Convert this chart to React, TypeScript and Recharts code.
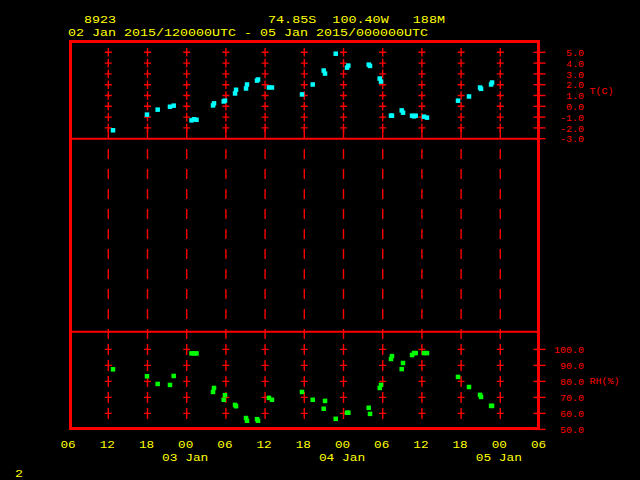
import React from "react";
import { ScatterChart, Scatter, XAxis, YAxis, ReferenceLine } from "recharts";

// ---------- data ----------
// observation times, hours after 02 Jan 2015 06 UTC
const obsHours = [
  6.72, 11.92, 13.56, 15.44, 16.01, 18.74, 19.12, 19.5, 22.03, 22.18, 23.66, 23.86,
  25.4, 25.55, 27.08, 27.23, 28.76, 28.92, 30.59, 31.05, 35.65, 37.29, 38.97, 39.17,
  40.81, 42.54, 42.74, 45.86, 46.06, 47.54, 47.74, 49.27, 49.42, 50.91, 51.11, 52.49,
  52.8, 53.05, 54.32, 54.78, 59.53, 61.21, 62.9, 63.05, 64.59, 64.74,
];
const tempC = [
  -2.22, -0.77, -0.31, -0.04, 0.06, -1.3, -1.2, -1.25, 0.08, 0.27, 0.45, 0.52,
  1.19, 1.53, 1.65, 2.02, 2.38, 2.48, 1.74, 1.74, 1.1, 2.02, 3.31, 3.03,
  4.87, 3.58, 3.77, 3.86, 3.74, 2.57, 2.29, -0.87, -0.87, -0.38, -0.59, -0.87,
  -0.93, -0.87, -0.96, -1.05, 0.52, 0.91, 1.74, 1.62, 2.02, 2.2,
];
const rhPct = [
  87.55, 83.2, 78.4, 77.8, 83.4, 97.5, 97.5, 97.5, 73.4, 75.9, 68.5, 71.4,
  65.3, 64.5, 57.1, 55.4, 56.4, 55.4, 69.7, 68.5, 73.4, 68.5, 62.9, 67.8,
  56.6, 60.4, 60.4, 63.5, 59.7, 75.9, 77.8, 94.0, 95.8, 87.7, 91.5, 96.5,
  97.7, 97.7, 97.7, 97.7, 82.8, 76.5, 71.6, 70.3, 64.7, 64.7,
];

const hourTicks = [0, 6, 12, 18, 24, 30, 36, 42, 48, 54, 60, 66, 72];
const hourTickLabels = ["06", "12", "18", "00", "06", "12", "18", "00", "06", "12", "18", "00", "06"];
const dayLabels = ["", "", "", "03 Jan", "", "", "", "04 Jan", "", "", "", "05 Jan", ""];
const gridHours = [6, 12, 18, 24, 30, 36, 42, 48, 54, 60, 66];
const tTicks = [-3, -2, -1, 0, 1, 2, 3, 4, 5];
const rhTicks = [50, 60, 70, 80, 90, 100];

const stationId = "8923";
const stationLoc = "74.85S  100.40W   188M";
const periodText = "02 Jan 2015/120000UTC - 05 Jan 2015/000000UTC";
const pageNumber = "2";
const tLabel = "T(C)";
const rhLabel = "RH(%)";

// ---------- style ----------
const RED = "#ff0000";
const CYAN = "#00ffff";
const GREEN = "#00ff00";
const YELLOW = "#ffff00";
const MONO = "'Liberation Mono', 'DejaVu Sans Mono', monospace";

const W = 640;
const H = 480;
const LEFT = 69.1;
const AXIS_W = 100;
const RIGHT_M = W - 539.5 - AXIS_W;

const tempData = obsHours.map((h, i) => ({ h, v: tempC[i] }));
const rhData = obsHours.map((h, i) => ({ h, v: rhPct[i] }));
const gridT = gridHours.flatMap((h) => tTicks.filter((t) => t > tTicks[0]).map((t) => ({ h, v: t })));
const gridRH = gridHours.flatMap((h) => rhTicks.filter((r) => r > rhTicks[0]).map((r) => ({ h, v: r })));
const midAnchors = gridHours.map((h) => ({ h, v: 0.5 }));

const square = (color: string, size: number) => (props: any) => {
  const { cx, cy } = props;
  if (cx == null || cy == null) return <g />;
  return <rect x={cx - size / 2} y={cy - size / 2} width={size} height={size} fill={color} />;
};

const plus = (vArm: number) => (props: any) => {
  const { cx, cy } = props;
  if (cx == null || cy == null) return <g />;
  return (
    <g stroke={RED} strokeWidth={1.4}>
      <line x1={cx - 3.5} x2={cx + 3.5} y1={cy} y2={cy} />
      <line x1={cx} x2={cx} y1={cy - vArm} y2={cy + vArm} />
    </g>
  );
};

const nothing = () => <g />;

const RightTick = (props: any) => {
  const { x, y, payload } = props;
  const s = Number(payload.value).toFixed(1);
  return (
    <g>
      <line x1={x - 6} x2={x + 6} y1={y} y2={y} stroke={RED} strokeWidth={1.4} />
      <text
        x={x + 44.5}
        y={y + 3.6}
        textAnchor="end"
        fill={RED}
        fontFamily={MONO}
        fontSize={9.5}
        textLength={s.length * 6}
        lengthAdjust="spacingAndGlyphs"
      >
        {s}
      </text>
    </g>
  );
};

const axisTitle = (text: string) => (props: any) => {
  const vb = props.viewBox || {};
  const x = (vb.x ?? 539.5) + 50;
  const y = (vb.y ?? 0) + (vb.height ?? 0) / 2 + 3.6;
  return (
    <text
      x={x}
      y={y}
      fill={RED}
      fontFamily={MONO}
      fontSize={9.5}
      textLength={text.length * 6}
      lengthAdjust="spacingAndGlyphs"
    >
      {text}
    </text>
  );
};

const TimeTick = (props: any) => {
  const { x, y, payload } = props;
  const i = hourTicks.indexOf(payload.value);
  const hl = hourTickLabels[i] || "";
  const dl = dayLabels[i] || "";
  return (
    <g fill={YELLOW} fontFamily={MONO} fontSize={11.5}>
      <text x={x - 1} y={y + 19} textAnchor="middle" textLength={hl.length * 7.6} lengthAdjust="spacingAndGlyphs">
        {hl}
      </text>
      {dl ? (
        <text x={x - 1.5} y={y + 32} textAnchor="middle" textLength={dl.length * 7.7} lengthAdjust="spacingAndGlyphs">
          {dl}
        </text>
      ) : null}
    </g>
  );
};

const layer: React.CSSProperties = { position: "absolute", left: 0, top: 0 };

export default function App() {
  return (
    <div style={{ position: "absolute", left: 0, top: 0, width: W, height: H, background: "#000", overflow: "hidden" }}>
      {/* middle panel: dashed time lines */}
      <div style={layer}>
        <ScatterChart width={W} height={H} margin={{ top: 129, bottom: H - 339, left: LEFT, right: W - 539.5 }}>
          <XAxis type="number" dataKey="h" domain={[0, 72]} hide allowDataOverflow />
          <YAxis type="number" dataKey="v" domain={[0, 1]} hide allowDataOverflow />
          <Scatter data={midAnchors} shape={nothing} isAnimationActive={false} />
          {gridHours.map((h) => (
            <ReferenceLine key={h} x={h} stroke={RED} strokeWidth={1.4} strokeDasharray="10 10" ifOverflow="extendDomain" />
          ))}
        </ScatterChart>
      </div>

      {/* top panel: temperature */}
      <div style={layer}>
        <ScatterChart width={W} height={H} margin={{ top: 41.5, bottom: H - 138.7, left: LEFT, right: RIGHT_M }}>
          <XAxis type="number" dataKey="h" domain={[0, 72]} hide allowDataOverflow />
          <YAxis
            type="number"
            dataKey="v"
            orientation="right"
            width={AXIS_W}
            domain={[-3, 6]}
            ticks={tTicks}
            interval={0}
            allowDataOverflow
            axisLine={false}
            tickLine={false}
            tickSize={0}
            tickMargin={0}
            tick={<RightTick />}
            label={axisTitle(tLabel)}
          />
          <ReferenceLine y={-3} stroke={RED} strokeWidth={2} />
          <Scatter data={gridT} shape={plus(4.3)} isAnimationActive={false} />
          <Scatter data={tempData} shape={square(CYAN, 4.5)} isAnimationActive={false} />
        </ScatterChart>
      </div>

      {/* bottom panel: relative humidity */}
      <div style={layer}>
        <ScatterChart width={W} height={H} margin={{ top: 331.8, bottom: H - 429.4 - 30, left: LEFT, right: RIGHT_M }}>
          <XAxis
            type="number"
            dataKey="h"
            domain={[0, 72]}
            ticks={hourTicks}
            interval={0}
            height={30}
            allowDataOverflow
            axisLine={false}
            tickLine={false}
            tickSize={0}
            tickMargin={0}
            tick={<TimeTick />}
          />
          <YAxis
            type="number"
            dataKey="v"
            orientation="right"
            width={AXIS_W}
            domain={[50, 111]}
            ticks={rhTicks}
            interval={0}
            allowDataOverflow
            axisLine={false}
            tickLine={false}
            tickSize={0}
            tickMargin={0}
            tick={<RightTick />}
            label={axisTitle(rhLabel)}
          />
          <ReferenceLine y={111} stroke={RED} strokeWidth={2} />
          <Scatter data={gridRH} shape={plus(5.5)} isAnimationActive={false} />
          <Scatter data={rhData} shape={square(GREEN, 4.5)} isAnimationActive={false} />
        </ScatterChart>
      </div>

      {/* frame */}
      <div
        style={{
          position: "absolute",
          left: 69,
          top: 40,
          width: 471,
          height: 390,
          border: `3px solid ${RED}`,
          boxSizing: "border-box",
          pointerEvents: "none",
        }}
      />

      {/* titles */}
      <svg width={W} height={H} style={{ ...layer, pointerEvents: "none" }}>
        <g fill={YELLOW} fontFamily={MONO} fontSize={11}>
          <text x={84} y={23.3} textLength={32} lengthAdjust="spacingAndGlyphs">
            {stationId}
          </text>
          <text x={268} y={23.3} textLength={177} lengthAdjust="spacingAndGlyphs" style={{ whiteSpace: "pre" }}>
            {stationLoc}
          </text>
          <text x={68} y={36} textLength={360} lengthAdjust="spacingAndGlyphs" style={{ whiteSpace: "pre" }}>
            {periodText}
          </text>
          <text x={15} y={477.3} textLength={8} lengthAdjust="spacingAndGlyphs">
            {pageNumber}
          </text>
        </g>
      </svg>
    </div>
  );
}
